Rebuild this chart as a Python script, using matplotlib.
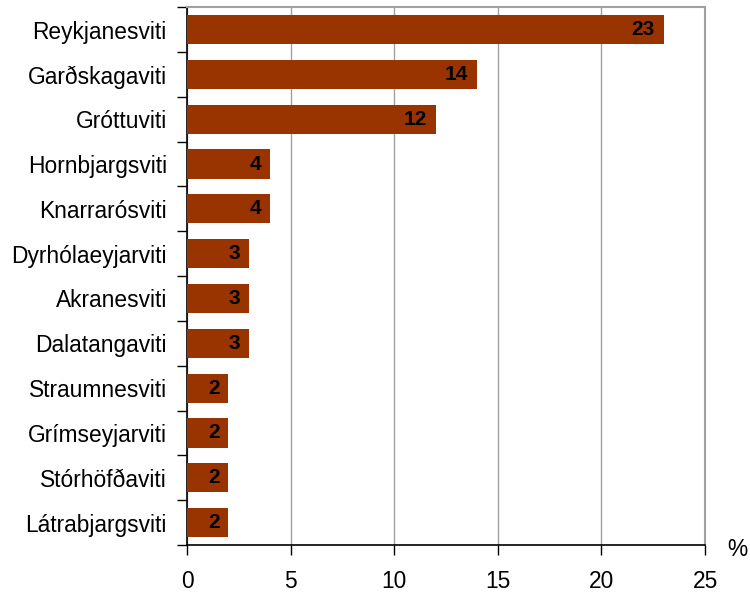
import matplotlib
matplotlib.use("Agg")
import matplotlib.pyplot as plt
import numpy as np

plt.rcParams["font.family"] = ["Liberation Sans", "DejaVu Sans"]

# ── Data ──────────────────────────────────────────────────────────────────────
names = [
    "Reykjanesviti", "Garðskagaviti", "Gróttuviti", "Hornbjargsviti",
    "Knarrarósviti", "Dyrhólaeyjarviti", "Akranesviti", "Dalatangaviti",
    "Straumnesviti", "Grímseyjarviti", "Stórhöfðaviti", "Látrabjargsviti",
]
values = [23, 14, 12, 4, 4, 3, 3, 3, 2, 2, 2, 2]
xticks = [0, 5, 10, 15, 20, 25]

BAR = "#993300"
GRID = "#a0a0a0"

fig = plt.figure(figsize=(7.5, 5.94), dpi=100, facecolor="white")
ax = fig.add_axes([0.2493, 0.0825, 0.9400 - 0.2493, 0.988 - 0.0825])

y = np.arange(len(names))
ax.barh(y, values, height=0.65, color=BAR, zorder=3)

for yi, v in zip(y, values):
    ax.text(v - 0.42, yi, f"{v}", ha="right", va="center",
            fontsize=15, fontweight="bold", color="black", zorder=4)

ax.set_xlim(0, 25)
ax.set_ylim(len(names) - 0.5, -0.5)
ax.set_xticks(xticks)
ax.set_xticklabels([str(t) for t in xticks], fontsize=16.4)
ax.set_yticks(y)
ax.set_yticklabels(names, fontsize=16.4)
ax.set_yticks(np.arange(-0.5, len(names)), minor=True)
ax.tick_params(axis="y", which="major", length=0, pad=14.5)
ax.tick_params(axis="y", which="minor", length=7, width=1, direction="out")
ax.tick_params(axis="x", which="major", length=7, width=1, direction="out", pad=11)

ax.xaxis.grid(True, color=GRID, linewidth=1, zorder=0)
ax.spines["top"].set_color(GRID)
ax.spines["right"].set_color(GRID)
ax.spines["top"].set_linewidth(1.5)
ax.spines["right"].set_linewidth(1.5)
ax.spines["left"].set_linewidth(1.2)
ax.spines["bottom"].set_linewidth(1.2)

fig.text(737 / 750, 1 - 550 / 594, "%", ha="center", va="center", fontsize=16.4)

fig.savefig("out.png", dpi=100, facecolor="white")
plt.close(fig)
